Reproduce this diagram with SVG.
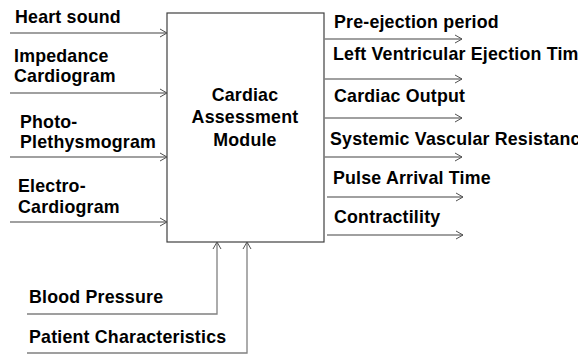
<svg xmlns="http://www.w3.org/2000/svg" width="578" height="354" viewBox="0 0 578 354">
<defs>
<marker id="ah" viewBox="0 0 10 10" refX="9" refY="5" markerWidth="10" markerHeight="10" markerUnits="userSpaceOnUse" orient="auto">
<path d="M2,1 L9,5 L2,9" fill="none" stroke="#505050" stroke-width="1"/>
</marker>
<style>
text{font-family:"Liberation Sans",Arial,sans-serif;font-weight:bold;font-size:17.8px;letter-spacing:0.2px;fill:#000}
.c{stroke:#808080;stroke-width:1.3;fill:none}
.a{marker-end:url(#ah)}
.box{fill:#fff;stroke:#404040;stroke-width:1.2}
.mid{text-anchor:middle}
</style>
</defs>
<rect width="578" height="354" fill="#fff"/>
<g id="module">
<rect class="box" x="167" y="13" width="157" height="229"/>
<text class="mid" x="245" y="101">Cardiac</text>
<text class="mid" x="245" y="123">Assessment</text>
<text class="mid" x="245" y="146">Module</text>
</g>
<g id="inputs">
<text x="15" y="23">Heart sound</text>
<text x="14" y="62">Impedance</text>
<text x="14" y="82">Cardiogram</text>
<text x="20" y="128">Photo-</text>
<text x="20" y="148">Plethysmogram</text>
<text x="18" y="192">Electro-</text>
<text x="18" y="213">Cardiogram</text>
<text x="29" y="303">Blood Pressure</text>
<text x="29" y="343">Patient Characteristics</text>
</g>
<g id="outputs">
<text x="334" y="28">Pre-ejection period</text>
<text x="333" y="60">Left Ventricular Ejection Time</text>
<text x="334" y="102">Cardiac Output</text>
<text x="330" y="145">Systemic Vascular Resistance</text>
<text x="333" y="184">Pulse Arrival  Time</text>
<text x="334" y="223">Contractility</text>
</g>
<g id="connectors">
<line class="c a" x1="10" y1="33" x2="167" y2="33"/>
<line class="c a" x1="10" y1="93" x2="167" y2="93"/>
<line class="c a" x1="10" y1="157" x2="167" y2="157"/>
<line class="c a" x1="10" y1="222" x2="167" y2="222"/>
<line class="c a" x1="324" y1="39" x2="462" y2="39"/>
<line class="c a" x1="324" y1="79" x2="462" y2="79"/>
<line class="c a" x1="324" y1="118" x2="462" y2="118"/>
<line class="c a" x1="324" y1="157" x2="462" y2="157"/>
<line class="c a" x1="327" y1="197" x2="463" y2="197"/>
<line class="c a" x1="327" y1="235" x2="463" y2="235"/>
<polyline class="c a" points="27,314 217,314 217,242"/>
<polyline class="c a" points="27,353 247,353 247,242"/>
</g>
</svg>
